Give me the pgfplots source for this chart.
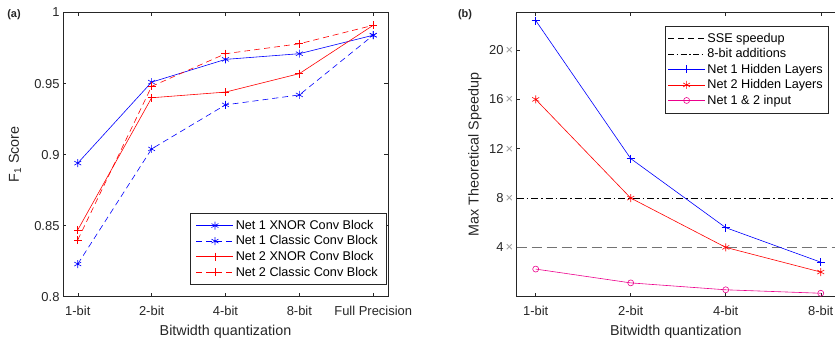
\documentclass[border=0pt]{standalone}
\usepackage{pgfplots}
\pgfplotsset{compat=1.18}
\usepackage{fontspec}
\setmainfont{Liberation Sans}
\definecolor{axgray}{gray}{0.15}
\definecolor{xgray}{gray}{0.6}
\begin{document}
\begin{tikzpicture}
\useasboundingbox (0,0) rectangle (836bp,341bp);
\pgfplotsset{
  every axis plot post/.append style={legend image code/.code={\draw[mark repeat=2,mark phase=2] plot coordinates {(0bp,0bp)(18.5bp,0bp)(37bp,0bp)};}},
  every axis/.append style={
    scale only axis,
    axis line style={axgray, line width=0.5pt},
    tick style={axgray, line width=0.5pt},
    major tick length=3.5bp,
    tick align=inside,
    tick label style={font=\fontsize{13}{15}\selectfont, text=axgray},
    xticklabel style={yshift=-6bp},
    /pgf/number format/assume math mode=true,
    label style={font=\fontsize{14.4}{16}\selectfont, text=axgray},
    xlabel style={at={(axis description cs:0.5,0)}, anchor=center, yshift=-35bp},
    legend style={font=\fontsize{12.7}{15}\selectfont, draw=axgray, line width=0.5pt,
      inner xsep=3bp, inner ysep=5bp, row sep=0.9bp,
      legend cell align=left, text=black},
  },
}
% ---------- (a) ----------
\begin{axis}[
  at={(63bp,44.3bp)}, anchor=south west,
  width=325bp, height=284.2bp,
  xmin=-0.2, xmax=4.2, ymin=0.8, ymax=1,
  xtick={0,1,2,3,4},
  xticklabels={1-bit,2-bit,4-bit,8-bit,Full Precision},
  ytick={0.8,0.85,0.9,0.95,1},
  yticklabels={0.8,0.85,0.9,0.95,1},
  xlabel={Bitwidth quantization},
  ylabel={F\textsubscript{1} Score},
  ylabel style={at={(axis description cs:-0.1477,0.5)}, anchor=center},
  legend style={at={(0.994,0.2945)}, anchor=north east, inner xsep=6bp},
]
\addplot[blue, line width=0.6pt, mark=asterisk, mark size=4bp, mark options={solid}] coordinates {(0,0.894) (1,0.951) (2,0.967) (3,0.971) (4,0.984)};
\addlegendentry{Net 1 XNOR Conv Block}
\addplot[blue, line width=0.6pt, dash pattern=on 6bp off 4bp, mark=asterisk, mark size=4bp, mark options={solid}] coordinates {(0,0.823) (1,0.904) (2,0.935) (3,0.942) (4,0.984)};
\addlegendentry{Net 1 Classic Conv Block}
\addplot[red, line width=0.6pt, mark=+, mark size=4bp, mark options={solid}] coordinates {(0,0.847) (1,0.940) (2,0.944) (3,0.957) (4,0.991)};
\addlegendentry{Net 2 XNOR Conv Block}
\addplot[red, line width=0.6pt, dash pattern=on 6bp off 4bp, mark=+, mark size=4bp, mark options={solid}] coordinates {(0,0.840) (1,0.948) (2,0.971) (3,0.978) (4,0.991)};
\addlegendentry{Net 2 Classic Conv Block}
\end{axis}
% ---------- (b) ----------
\begin{axis}[
  at={(516.7bp,44.3bp)}, anchor=south west,
  width=318.3bp, height=284.2bp,
  axis y line*=left,
  xmin=-0.2, xmax=3.15, ymin=0, ymax=23.05,
  xtick={0,1,2,3},
  xticklabels={1-bit,2-bit,4-bit,8-bit},
  ytick={4,8,12,16,20},
  yticklabels={4\,\textcolor{xgray}{×},8\,\textcolor{xgray}{×},12\,\textcolor{xgray}{×},16\,\textcolor{xgray}{×},20\,\textcolor{xgray}{×}},
  xlabel={Bitwidth quantization},
  ylabel={Max Theoretical Speedup},
  ylabel style={at={(axis description cs:-0.131,0.5)}, anchor=center},
  legend style={at={(0.978,0.9535)}, anchor=north east},
]
\addlegendimage{black, line width=0.5pt, dash pattern=on 6bp off 4bp}
\addlegendentry{SSE speedup}
\addlegendimage{black, line width=0.5pt, dash pattern=on 6bp off 2.5bp on 1.5bp off 2.5bp}
\addlegendentry{8-bit additions}
\addplot[forget plot, gray!90!black, line width=1pt, dash pattern=on 10bp off 5bp] coordinates {(-0.2,4) (3.15,4)};
\addplot[forget plot, black, line width=0.6pt, dash pattern=on 7bp off 3bp on 1.5bp off 3bp] coordinates {(-0.2,8) (3.15,8)};
\addplot[blue, line width=0.6pt, mark=+, mark size=4bp] coordinates {(0,22.4) (1,11.2) (2,5.6) (3,2.8)};
\addlegendentry{Net 1 Hidden Layers}
\addplot[red, line width=0.6pt, mark=asterisk, mark size=4bp] coordinates {(0,16) (1,8) (2,4) (3,2)};
\addlegendentry{Net 2 Hidden Layers}
\addplot[magenta, line width=0.6pt, mark=o, mark size=3bp] coordinates {(0,2.24) (1,1.12) (2,0.56) (3,0.28)};
\addlegendentry{Net 1 \& 2 input}
\end{axis}
\node[font=\bfseries\fontsize{11}{13}\selectfont, text=axgray] at (14bp,326bp) {(a)};
\node[font=\bfseries\fontsize{11}{13}\selectfont, text=axgray] at (465bp,326bp) {(b)};
\end{tikzpicture}
\end{document}
